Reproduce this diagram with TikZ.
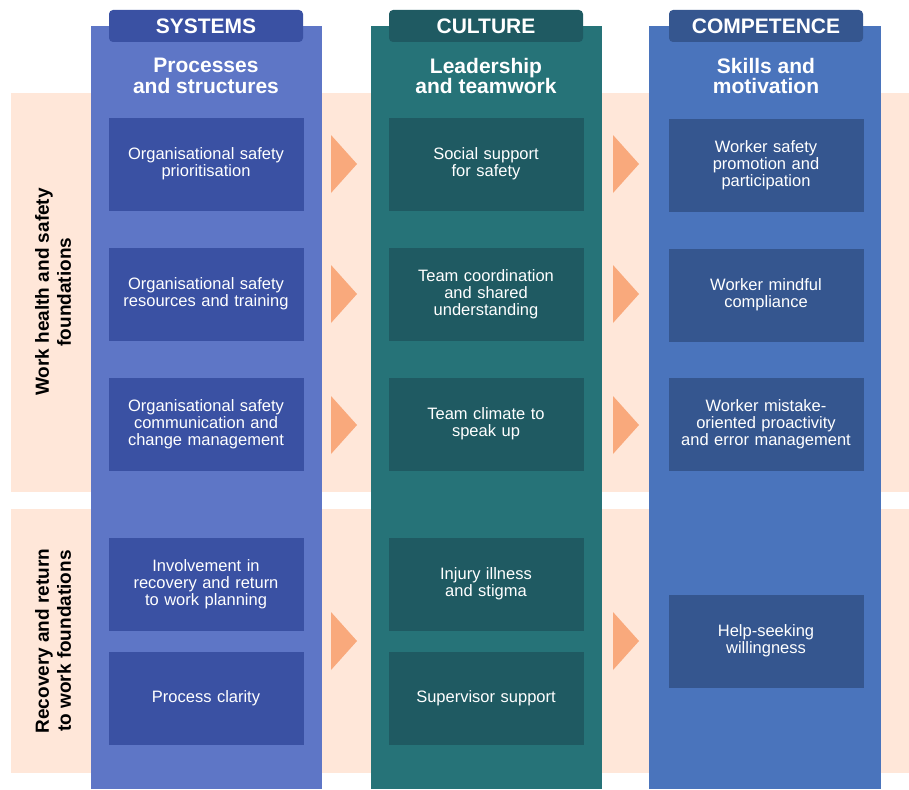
\documentclass[tikz,border=0pt]{standalone}
\usepackage{fontspec}
\setmainfont{Liberation Sans}
\definecolor{peach}{HTML}{FFE7D9}
\definecolor{sysc}{HTML}{5E76C6}
\definecolor{sysd}{HTML}{3A51A3}
\definecolor{culc}{HTML}{267378}
\definecolor{culd}{HTML}{1F5A62}
\definecolor{comc}{HTML}{4A74BC}
\definecolor{comd}{HTML}{35568F}
\definecolor{arrowc}{HTML}{F9A97C}
\begin{document}
\begin{tikzpicture}[x=1pt, y=-1pt,
  tab/.style = {fill=#1, rounded corners=4pt, minimum width=194pt, minimum height=32pt, inner sep=0pt, text=white, font=\fontsize{21}{21}\selectfont\bfseries},
  head/.style = {align=center, text=white, inner sep=0pt, font=\fontsize{21}{20.5}\selectfont\bfseries},
  item/.style = {fill=#1, minimum width=195pt, minimum height=93pt, text width=190pt, align=center, inner sep=0pt, text=white, font=\fontsize{16.5}{17}\selectfont},
  side/.style = {rotate=90, align=center, inner sep=0pt, font=\fontsize{19}{22}\selectfont\bfseries}]
  \useasboundingbox[fill=white] (0,0) rectangle (909,789);
  % bands
  \fill[peach] (11,93) rectangle (909,492);
  \fill[peach] (11,509) rectangle (909,773);
  % columns
  \fill[sysc] (91,26) rectangle (322,789);
  \fill[culc] (371,26) rectangle (602,789);
  \fill[comc] (649,26) rectangle (881,789);
  % tabs and headings
  \node[tab=sysd] (sys) at (206,26) {SYSTEMS};
  \node[tab=culd] (cul) at (486,26) {CULTURE};
  \node[tab=comd] (com) at (766,26) {COMPETENCE};
  \node[head] (sysh) at (206,76) {Processes\\and structures};
  \node[head] (culh) at (486,76) {Leadership\\and teamwork};
  \node[head] (comh) at (766,76) {Skills and\\motivation};
  % side labels
  \node[side] (wsf) at (53,292) {Work health and safety\\foundations};
  \node[side] (rtw) at (53,641) {Recovery and return\\to work foundations};
  % systems items
  \node[item=sysd] (s1) at (206,164) {Organisational safety\\prioritisation};
  \node[item=sysd] (s2) at (206,294) {Organisational safety\\resources and training};
  \node[item=sysd] (s3) at (206,424) {Organisational safety\\communication and\\change management};
  \node[item=sysd] (s4) at (206,584) {Involvement in\\recovery and return\\to work planning};
  \node[item=sysd] (s5) at (206,698) {Process clarity};
  % culture items
  \node[item=culd] (c1) at (486,164) {Social support\\for safety};
  \node[item=culd] (c2) at (486,294) {Team coordination\\and shared\\understanding};
  \node[item=culd] (c3) at (486,424) {Team climate to\\speak up};
  \node[item=culd] (c4) at (486,584) {Injury illness\\and stigma};
  \node[item=culd] (c5) at (486,698) {Supervisor support};
  % competence items
  \node[item=comd] (m1) at (766,165) {Worker safety\\promotion and\\participation};
  \node[item=comd] (m2) at (766,295) {Worker mindful\\compliance};
  \node[item=comd] (m3) at (766,424) {Worker mistake-\\oriented proactivity\\and error management};
  \node[item=comd] (m4) at (766,641) {Help-seeking\\willingness};
  % flow arrows
  \foreach \ax in {331,613}
    \foreach \ay in {164,294,425,641}
      \fill[arrowc] (\ax,\ay-29) -- ++(26,29) -- ++(-26,29) -- cycle;
\end{tikzpicture}
\end{document}
